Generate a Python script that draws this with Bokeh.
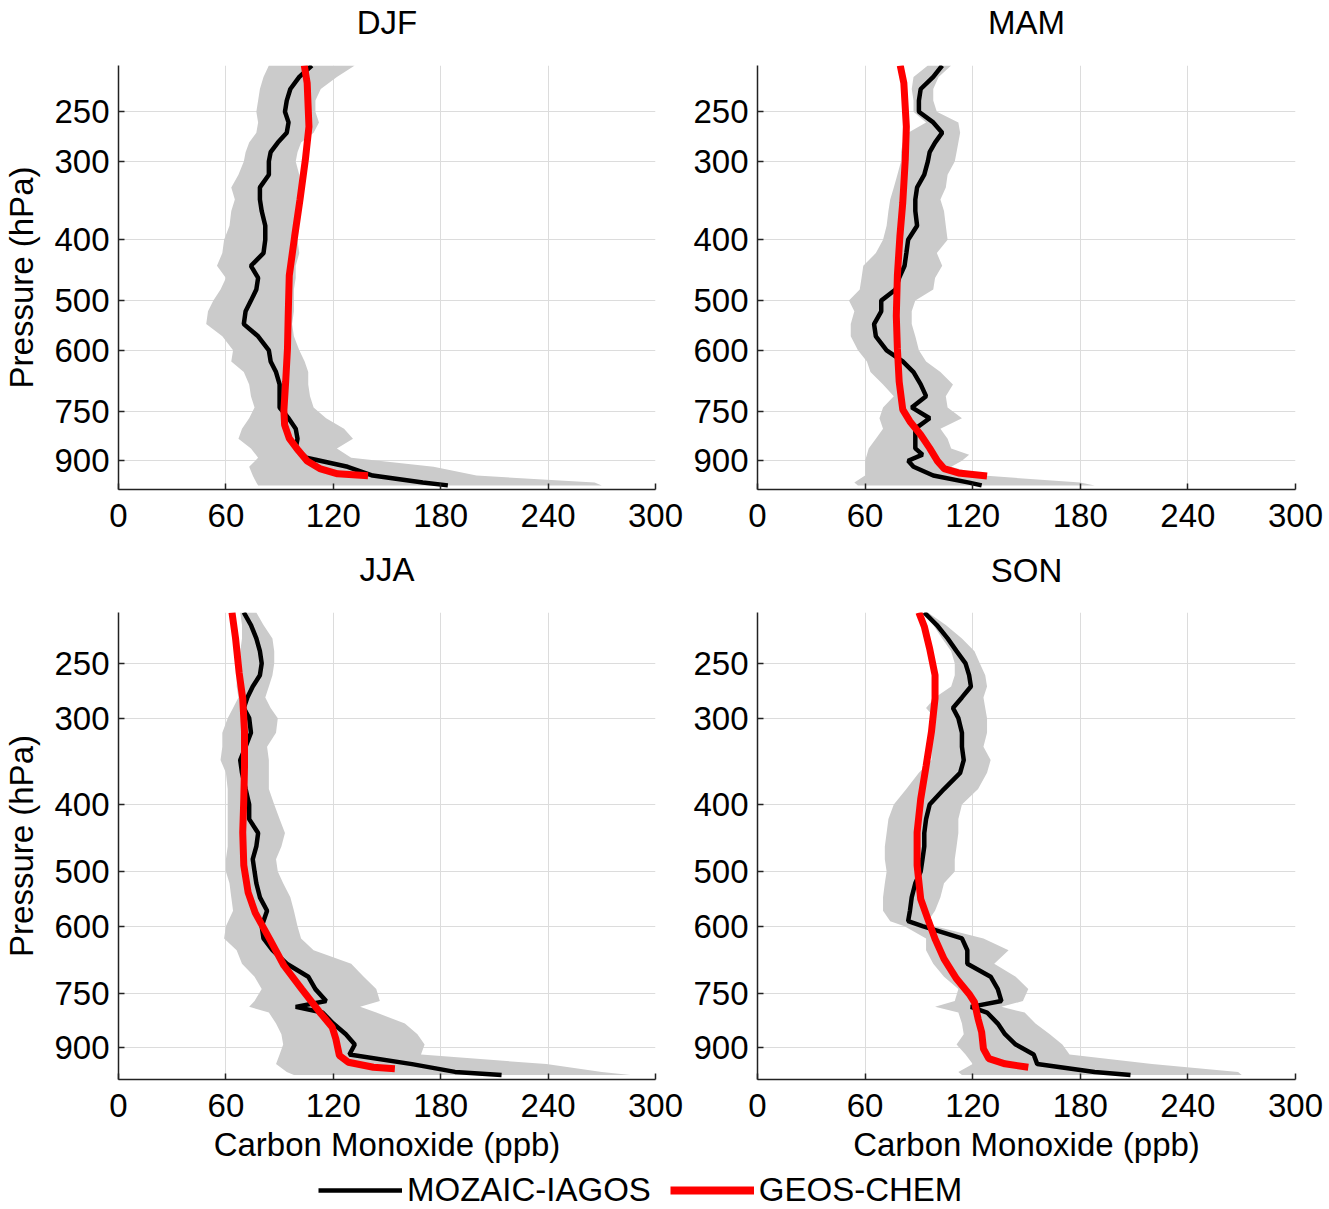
from bokeh.plotting import figure
from bokeh.models import Range1d, FixedTicker, PrintfTickFormatter, Legend, LegendItem, LinearAxis
from bokeh.layouts import column, row
from bokeh.embed import file_html
from bokeh.resources import INLINE

FONT = "Liberation Sans"

# ---------------- data ----------------
X_TICKS = [0, 60, 120, 180, 240, 300]
P_TICKS = [250, 300, 400, 500, 600, 750, 900]

# DJF
DJF_P = [211, 220, 230, 240, 250, 260, 270, 280, 290, 300, 315, 330, 345, 360, 380, 400, 420, 440, 460, 480,
         500, 520, 545, 570, 600, 625, 650, 680, 710, 740, 770, 800, 830, 860, 890, 920, 950, 975, 985]
DJF_OBS = [108, 101, 96, 94, 93, 95, 94, 89, 85, 84, 84, 79, 79, 80, 82, 82, 81, 74, 78, 77,
           74, 71, 70, 78, 84, 85, 88, 90, 90, 90, 95, 99, 100, 99, 105, 128, 142, 170, 184]
DJF_LO = [84, 81, 79, 78, 77, 78, 77, 73, 71, 70, 67, 63, 65, 63, 62, 59, 58, 55, 60, 57,
          53, 50, 49, 58, 64, 63, 70, 73, 74, 76, 73, 69, 67, 74, 78, 73, 75, 77, 78]
DJF_HI = [132, 122, 113, 110, 110, 112, 109, 102, 100, 99, 101, 102, 102, 101, 100, 100, 101, 99, 99, 98,
          98, 98, 97, 98, 101, 104, 106, 106, 107, 109, 116, 126, 131, 122, 130, 176, 200, 266, 270]
DJF_MOD_P = [211, 225, 264, 298, 345, 395, 456, 529, 596, 673, 748, 789, 829, 866, 901, 926, 944, 951]
DJF_MOD = [103.8, 105.4, 106.4, 104.4, 101.4, 98.4, 95.4, 94.8, 94.4, 93.4, 92.4, 92.8, 95.4, 100.4, 105.4,
           112.4, 122.4, 139.4]

# MAM
MAM_P = [211, 220, 230, 240, 250, 260, 270, 280, 290, 300, 315, 330, 345, 360, 380, 400, 420, 440, 460, 480,
         500, 520, 545, 570, 600, 625, 650, 680, 710, 740, 770, 800, 830, 860, 880, 900, 920, 950, 975, 985]
MAM_OBS = [103, 98, 91, 90, 90, 98, 103, 99, 96, 95, 93, 89, 88, 88, 89, 84, 83, 82, 79, 77,
           69, 69, 65, 66, 72, 81, 87, 91, 94, 86, 96, 88, 88, 88, 92, 84, 87, 98, 118, 125]
MAM_LO = [95, 87, 86, 87, 87, 94, 84, 81, 80, 80, 78, 76, 74, 73, 72, 70, 66, 59, 58, 57,
          51, 54, 52, 52, 56, 61, 63, 70, 76, 70, 68, 70, 66, 62, 61, 60, 60, 60, 54, 56]
MAM_HI = [108, 101, 98, 98, 100, 112, 113, 112, 111, 110, 106, 105, 102, 104, 105, 106, 100, 103, 99, 98,
          88, 86, 86, 88, 90, 94, 102, 109, 105, 106, 114, 102, 106, 108, 118, 114, 108, 126, 180, 188]
MAM_MOD_P = [211, 225, 264, 298, 349, 395, 456, 529, 596, 673, 746, 779, 818, 859, 901, 926, 941, 952]
MAM_MOD = [79.6, 81.6, 83, 82.4, 81, 79.4, 78, 77.4, 78, 79, 81, 85, 91, 96, 100.4, 104, 112, 128]

# JJA
JJA_P = [211, 220, 230, 240, 250, 260, 270, 280, 290, 300, 315, 330, 345, 360, 380, 400, 420, 440, 460, 480,
         500, 520, 545, 570, 600, 625, 650, 680, 710, 740, 770, 785, 800, 830, 860, 890, 920, 950, 975, 985]
JJA_OBS = [70, 74, 77, 79, 80, 79, 75, 72, 70, 73, 74, 71, 68, 69, 71, 73, 73, 78, 77, 75,
           76, 77, 79, 83, 80, 81, 86, 94, 106, 110, 116, 99, 114, 120, 127, 132, 129, 164, 188, 214]
JJA_LO = [68, 69, 69, 68, 67, 66, 66, 67, 64, 61, 58, 58, 57, 60, 61, 61, 61, 61, 61, 60,
          60, 62, 63, 64, 60, 59, 66, 69, 76, 80, 76, 73, 84, 88, 91, 92, 90, 88, 94, 98]
JJA_HI = [77, 81, 86, 87, 87, 86, 84, 82, 85, 89, 88, 83, 84, 84, 84, 87, 90, 93, 91, 88,
          89, 92, 96, 98, 100, 102, 109, 130, 137, 144, 146, 135, 144, 160, 167, 171, 169, 239, 270, 286]
JJA_MOD_P = [211, 230, 258, 281, 314, 352, 393, 439, 490, 536, 574, 626, 684, 740, 799, 840, 873, 923, 944,
             960, 965]
JJA_MOD = [63.4, 65.4, 67.4, 69.4, 70.4, 70.4, 70, 69.4, 70, 72.4, 76.4, 84.4, 92.4, 102.4, 112.4, 119.4,
           121.4, 123.4, 128.4, 142.4, 154.4]

# SON
SON_P = [211, 220, 230, 240, 250, 260, 270, 280, 290, 300, 315, 330, 345, 360, 380, 400, 420, 440, 460, 480,
         500, 520, 545, 570, 590, 600, 625, 650, 680, 710, 740, 770, 785, 800, 830, 860, 890, 920, 950, 975, 985]
SON_OBS = [93, 100, 106, 111, 116, 118, 119, 114, 109, 112, 114, 114, 115, 113, 104, 96, 94, 93, 93, 92,
           91, 88, 86, 85, 84, 92, 114, 117, 117, 130, 134, 136, 119, 128, 134, 138, 144, 154, 156, 188, 208]
SON_LO = [91, 98, 103, 108, 110, 110, 108, 99, 94, 99, 98, 97, 97, 90, 83, 76, 73, 72, 71, 71,
          72, 71, 70, 70, 74, 82, 94, 94, 98, 104, 112, 110, 99, 112, 114, 115, 111, 116, 120, 112, 114]
SON_HI = [95, 105, 114, 121, 124, 127, 128, 126, 127, 128, 128, 126, 130, 128, 123, 114, 112, 112, 111, 110,
          110, 104, 102, 99, 95, 99, 126, 140, 132, 144, 151, 148, 136, 149, 155, 163, 170, 174, 220, 268, 270]
SON_MOD_P = [211, 221, 238, 260, 281, 314, 352, 393, 439, 490, 548, 586, 626, 669, 715, 752, 773, 817, 854,
             903, 933, 949, 960]
SON_MOD = [90, 93, 96, 99, 99, 97, 94, 91, 89, 89, 91, 95, 99, 104, 111, 118, 121, 123, 125, 126, 129, 138, 151]

SERIES_NAMES = ["MOZAIC-IAGOS", "GEOS-CHEM"]
X_LABEL = "Carbon Monoxide (ppb)"
Y_LABEL = "Pressure (hPa)"

BAND_COLOR = "#cbcbcb"
GRID_COLOR = "#dcdcdc"
AXIS_COLOR = "#222222"
FRAME_W = 538


def style_axis(ax, ticks):
    ax.ticker = FixedTicker(ticks=ticks, minor_ticks=[])
    ax.major_label_text_font = FONT
    ax.major_label_text_font_size = "33px"
    ax.major_label_text_color = "black"
    ax.major_tick_in = 6
    ax.major_tick_out = 0
    ax.minor_tick_line_color = None
    ax.major_tick_line_color = AXIS_COLOR
    ax.major_tick_line_width = 1.5
    ax.axis_line_color = AXIS_COLOR
    ax.axis_line_width = 1.5
    ax.axis_label_text_font = FONT
    ax.axis_label_text_font_size = "33px"
    ax.axis_label_text_font_style = "normal"
    ax.axis_label_text_color = "black"


def panel(title, plev, obs, lo, hi, mp, mod, frame_h, bl, br, bt, bb, ylabel, xlabel, title_standoff):
    fig = figure(width=bl + FRAME_W + br, height=bt + frame_h + bb,
                 x_range=Range1d(0, 300), y_range=Range1d(1000, 211), y_axis_type="log",
                 output_backend="svg", toolbar_location=None,
                 min_border_left=bl, min_border_right=br, min_border_top=bt, min_border_bottom=bb)
    fig.outline_line_color = None

    fig.harea(y=plev, x1=lo, x2=hi, fill_color=BAND_COLOR, fill_alpha=1.0)
    fig.line(x=obs, y=plev, line_color="black", line_width=4.5)
    fig.line(x=mod, y=mp, line_color="#ff0000", line_width=7)

    xa = fig.below[0]
    style_axis(xa, X_TICKS)
    xa.major_label_standoff = 14
    ya = fig.left[0]
    style_axis(ya, P_TICKS)
    ya.formatter = PrintfTickFormatter(format="%d")
    ya.major_label_standoff = 9
    if ylabel:
        ya.axis_label = ylabel
        ya.axis_label_standoff = 11
    if xlabel:
        xa.axis_label = xlabel
        xa.axis_label_standoff = 6

    fig.xgrid.ticker = FixedTicker(ticks=X_TICKS[1:])
    fig.ygrid.ticker = FixedTicker(ticks=P_TICKS)
    fig.grid.grid_line_color = GRID_COLOR
    fig.grid.grid_line_width = 1

    # panel title: label of a bare axis above the frame
    top = LinearAxis(ticker=FixedTicker(ticks=[], minor_ticks=[]), axis_label=title)
    top.axis_line_color = None
    top.major_tick_line_color = None
    top.minor_tick_line_color = None
    top.major_label_text_font_size = "0px"
    top.major_tick_in = 0
    top.major_tick_out = 0
    top.minor_tick_in = 0
    top.minor_tick_out = 0
    top.major_label_standoff = 0
    top.axis_label_standoff = title_standoff
    top.axis_label_text_font = FONT
    top.axis_label_text_font_size = "33px"
    top.axis_label_text_font_style = "normal"
    top.axis_label_text_color = "black"
    fig.add_layout(top, "above")
    return fig


p_djf = panel("DJF", DJF_P, DJF_OBS, DJF_LO, DJF_HI, DJF_MOD_P, DJF_MOD, 424, 117, 30, 65, 51, Y_LABEL, None, 25)
p_mam = panel("MAM", MAM_P, MAM_OBS, MAM_LO, MAM_HI, MAM_MOD_P, MAM_MOD, 424, 72, 34, 65, 51, None, None, 25)
p_jja = panel("JJA", JJA_P, JJA_OBS, JJA_LO, JJA_HI, JJA_MOD_P, JJA_MOD, 467, 117, 30, 72, 86, Y_LABEL, X_LABEL, 25)
p_son = panel("SON", SON_P, SON_OBS, SON_LO, SON_HI, SON_MOD_P, SON_MOD, 467, 72, 34, 72, 86, None, X_LABEL, 24)

# legend strip
leg = figure(width=1329, height=44, x_range=Range1d(0, 1), y_range=Range1d(0, 1),
             output_backend="svg", toolbar_location=None, min_border=0,
             x_axis_location=None, y_axis_location=None)
leg.outline_line_color = None
leg.grid.visible = False
nan = float("nan")
r_obs = leg.line(x=[nan, nan], y=[nan, nan], line_color="black", line_width=4.5)
r_mod = leg.line(x=[nan, nan], y=[nan, nan], line_color="#ff0000", line_width=8)
legend = Legend(items=[LegendItem(label=SERIES_NAMES[0], renderers=[r_obs]),
                       LegendItem(label=SERIES_NAMES[1], renderers=[r_mod])],
                orientation="horizontal", location=(318, 0))
legend.padding = 0
legend.margin = 0
legend.spacing = 19
legend.glyph_width = 84
legend.glyph_height = 20
legend.label_standoff = 5
legend.label_text_font = FONT
legend.label_text_font_size = "33px"
legend.label_text_color = "black"
legend.border_line_color = None
legend.background_fill_alpha = 0
leg.add_layout(legend, "center")

layout = column(row(p_djf, p_mam), row(p_jja, p_son), leg)

open("out.html", "w").write(file_html(layout, INLINE))
